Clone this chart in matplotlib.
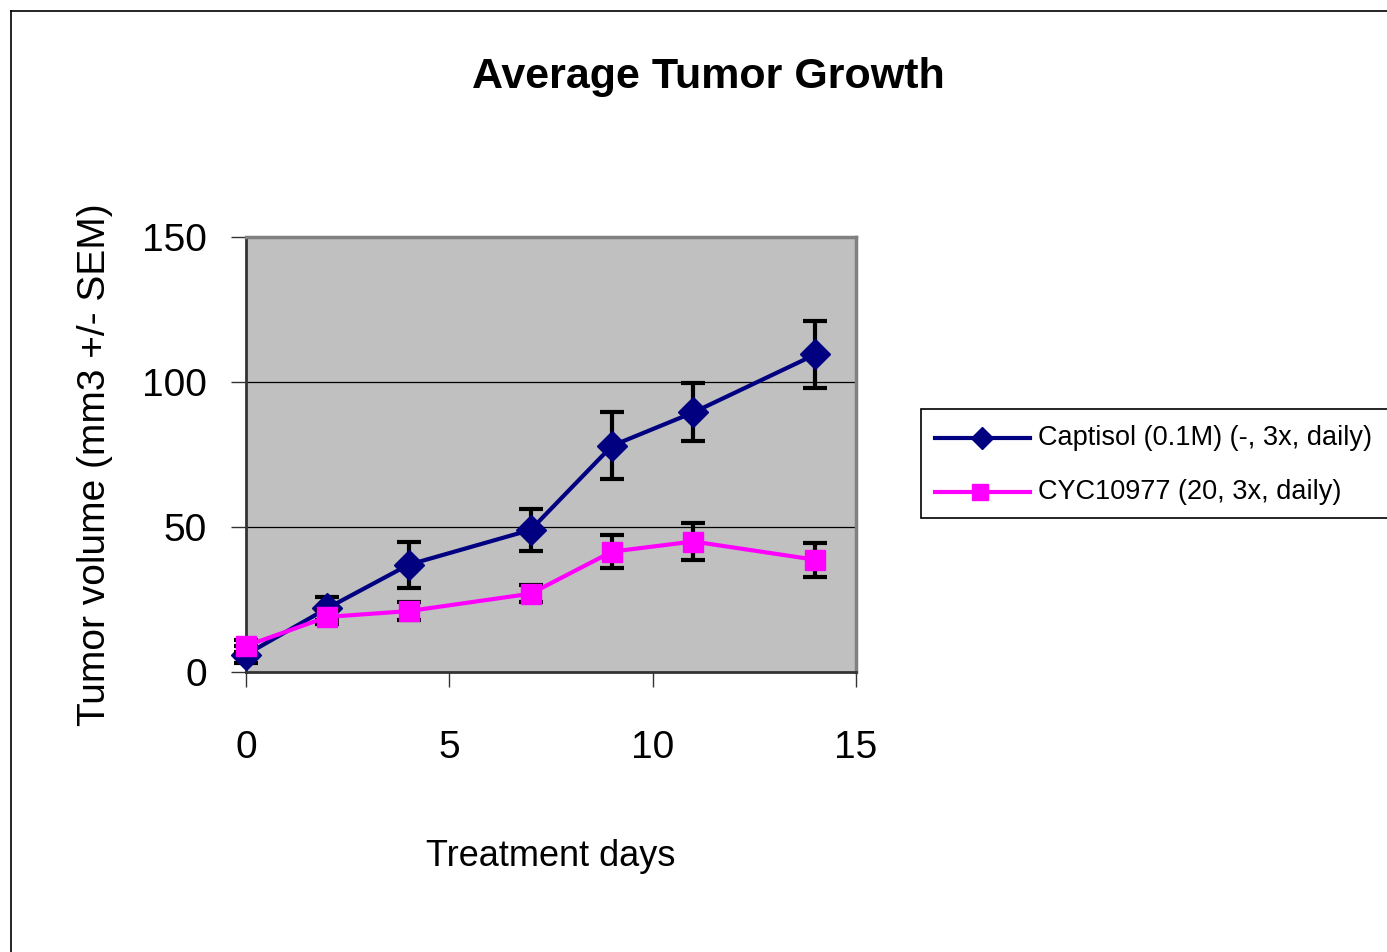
import matplotlib
matplotlib.use("Agg")
import matplotlib.pyplot as plt
from matplotlib.patches import Rectangle
from matplotlib.lines import Line2D

days = [0, 2, 4, 7, 9, 11, 14]
captisol_mean = [6, 22, 37, 49, 78, 89.5, 109.5]
captisol_sem = [3, 4, 8, 7.3, 11.6, 10, 11.6]
cyc_mean = [9, 19, 21, 27, 41.5, 45, 38.7]
cyc_sem = [2, 2.5, 3, 3, 5.8, 6.5, 5.8]
series_labels = ["Captisol (0.1M) (-, 3x, daily)", "CYC10977 (20, 3x, daily)"]
x_ticks = [0, 5, 10, 15]
y_ticks = [0, 50, 100, 150]

FONT = ['Liberation Sans', 'DejaVu Sans']
plt.rcParams['font.family'] = FONT

W, H = 1387, 952
fig = plt.figure(figsize=(W / 100, H / 100), dpi=100)
fig.patch.set_facecolor('white')

ax = fig.add_axes([246 / W, 1 - 672 / H, 610 / W, 435 / H])
ax.set_facecolor('#C0C0C0')
ax.set_xlim(0, 15)
ax.set_ylim(0, 150)

for y in [50, 100]:
    ax.axhline(y, color='#000000', lw=0.9, zorder=1)

blue = '#000080'
pink = '#FF00FF'

ax.errorbar(days, captisol_mean, yerr=captisol_sem, fmt='none', ecolor='black',
            elinewidth=3, capsize=8.5, capthick=3, zorder=3, clip_on=False)
ax.plot(days, captisol_mean, color=blue, lw=3, marker='D', markersize=15,
        markerfacecolor=blue, markeredgecolor=blue, zorder=4, clip_on=False)
ax.errorbar(days, cyc_mean, yerr=cyc_sem, fmt='none', ecolor='black',
            elinewidth=3, capsize=8.5, capthick=3, zorder=5, clip_on=False)
ax.plot(days, cyc_mean, color=pink, lw=3, marker='s', markersize=15,
        markerfacecolor=pink, markeredgecolor=pink, zorder=6, clip_on=False)

ax.spines['left'].set_color('#333333')
ax.spines['left'].set_linewidth(2)
ax.spines['bottom'].set_color('#333333')
ax.spines['bottom'].set_linewidth(2)
ax.spines['top'].set_color('#808080')
ax.spines['top'].set_linewidth(2.5)
ax.spines['right'].set_color('#808080')
ax.spines['right'].set_linewidth(2.5)

ax.set_xticks(x_ticks)
ax.set_yticks(y_ticks)
ax.tick_params(axis='y', direction='out', length=11, width=1, color='#333333',
               labelsize=28, pad=17)
ax.tick_params(axis='x', direction='out', length=11, width=1, color='#333333',
               labelsize=28, pad=31)

fig.text(708 / W, 1 - 77 / H, "Average Tumor Growth", ha='center', va='center',
         fontsize=31, fontweight='bold')
fig.text(551 / W, 1 - 857 / H, "Treatment days", ha='center', va='center',
         fontsize=26)
fig.text(95 / W, 1 - 465 / H, "Tumor volume (mm3 +/- SEM)", ha='center',
         va='center', rotation=90, fontsize=28)

# legend box
leg_box = Rectangle((921 / W, 1 - 518 / H), (1400 - 921) / W, 109 / H,
                    transform=fig.transFigure, facecolor='white',
                    edgecolor='black', lw=1.2)
fig.patches.append(leg_box)
handles = [
    Line2D([935 / W, 1030 / W], [1 - 438 / H] * 2, transform=fig.transFigure,
           color=blue, lw=3),
    Line2D([982 / W], [1 - 438 / H], transform=fig.transFigure, marker='D',
           markersize=11, color=blue, lw=0),
    Line2D([935 / W, 1030 / W], [1 - 492 / H] * 2, transform=fig.transFigure,
           color=pink, lw=3),
    Line2D([980 / W], [1 - 492 / H], transform=fig.transFigure, marker='s',
           markersize=11, color=pink, lw=0),
]
for h in handles:
    fig.lines.append(h)
fig.text(1038 / W, 1 - 438 / H, series_labels[0], ha='left', va='center', fontsize=19.5)
fig.text(1038 / W, 1 - 492 / H, series_labels[1], ha='left', va='center', fontsize=19.5)

# outer frame
fig.lines.append(Line2D([11 / W, 11 / W], [0, 1 - 11 / H], transform=fig.transFigure,
                        color='black', lw=1.2))
fig.lines.append(Line2D([11 / W, 1], [1 - 11 / H, 1 - 11 / H], transform=fig.transFigure,
                        color='black', lw=1.2))

fig.savefig('out.png', dpi=100)
